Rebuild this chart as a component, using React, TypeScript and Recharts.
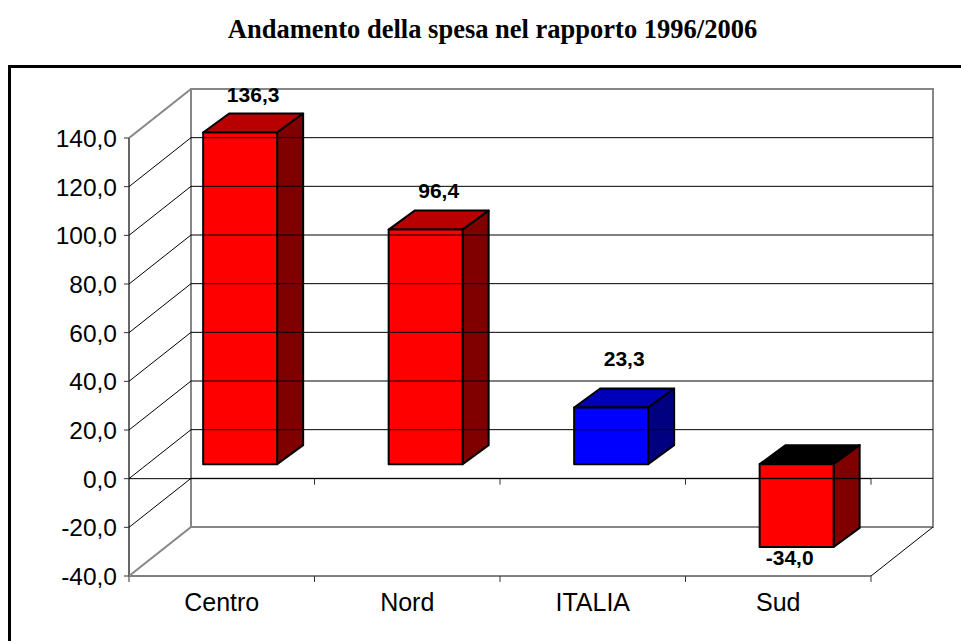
import { BarChart, Bar, XAxis, YAxis, LabelList, ReferenceArea, ReferenceLine } from "recharts";

const categories = ["Centro", "Nord", "ITALIA", "Sud"];
const values = [136.3, 96.4, 23.3, -34.0];
const barColors = ["red", "red", "blue", "red"];
const yTicks = [-40, -20, 0, 20, 40, 60, 80, 100, 120, 140];

const data = categories.map((name, i) => ({ name, value: values[i], kind: barColors[i] }));

const W = 961;
const H = 641;
const PLOT_LEFT = 129;
const PLOT_RIGHT = 871;
const PLOT_TOP = 138;
const PLOT_BOTTOM = 576;
// profondita' dello pseudo 3D
const DEPTH_X = 62;
const DEPTH_Y = 49;
const BAR_DX = 26;
const BAR_DY = 19;
const FRONT_DX = 18.5;
const FRONT_DY = 14.5;

const SHADES: Record<string, { front: string; side: string; top: string }> = {
  red: { front: "#ff0000", side: "#800000", top: "#b80000" },
  blue: { front: "#0000ff", side: "#000080", top: "#0000b8" },
};

const fmt = (v: number) => v.toFixed(1).replace(".", ",");

function YTick({ x, y, payload }: any) {
  const v = payload.value;
  const edge = v === 140 || v === -40;
  const px = PLOT_LEFT;
  return (
    <g>
      {!edge && <line x1={px + DEPTH_X} x2={PLOT_RIGHT + DEPTH_X} y1={y - DEPTH_Y} y2={y - DEPTH_Y} stroke="#000" />}
      <line x1={px} x2={px + DEPTH_X} y1={y} y2={y - DEPTH_Y} stroke={edge ? "#868686" : "#000"} strokeWidth={edge ? 2 : 1} />
      <line x1={px - 5} x2={px} y1={y} y2={y} stroke="#333" />
      <text x={x - 4} y={y + 9} textAnchor="end" fontFamily="Liberation Sans" fontSize={24.5} fill="#000">
        {fmt(v)}
      </text>
    </g>
  );
}

function XTick({ x, y, payload, index }: any) {
  const step = (PLOT_RIGHT - PLOT_LEFT) / categories.length;
  const right = PLOT_LEFT + step * (index + 1);
  return (
    <g>
      <line x1={right} x2={right} y1={PLOT_BOTTOM} y2={PLOT_BOTTOM + 6} stroke="#333" />
      {index === 0 && <line x1={PLOT_LEFT} x2={PLOT_LEFT} y1={PLOT_BOTTOM} y2={PLOT_BOTTOM + 6} stroke="#333" />}
      <text x={x} y={y + 27} textAnchor="middle" fontFamily="Liberation Sans" fontSize={25} fill="#000">
        {payload.value}
      </text>
    </g>
  );
}

function BackWall({ x, y, width, height }: any) {
  const bx = x + DEPTH_X;
  const by = y - DEPTH_Y;
  return (
    <g>
      <rect x={bx} y={by} width={width} height={height} fill="none" stroke="#868686" strokeWidth={2} />
      <line x1={x + width} y1={y + height} x2={bx + width} y2={by + height} stroke="#000" />
      <line x1={x} y1={y} x2={x} y2={y + height} stroke="#333" strokeWidth={1.5} />
    </g>
  );
}

function ZeroLine({ x1, x2, y1, y2, viewBox, ...rest }: any) {
  const ax = x1 ?? rest.segment?.[0]?.x ?? PLOT_LEFT;
  const bx = x2 ?? rest.segment?.[1]?.x ?? PLOT_RIGHT;
  const yy = y1 ?? rest.segment?.[0]?.y;
  const step = (bx - ax) / categories.length;
  return (
    <g>
      <line x1={ax} x2={bx} y1={yy} y2={y2 ?? yy} stroke="#000" />
      {categories.map((c, i) => (
        <line key={c} x1={ax + step * (i + 1)} x2={ax + step * (i + 1)} y1={yy} y2={yy + 6} stroke="#333" />
      ))}
    </g>
  );
}

function Box3D({ x, y, width, height, payload }: any) {
  const neg = payload.value < 0;
  const h = Math.abs(height);
  const t = Math.min(y, y + height);
  const fx = x + FRONT_DX;
  const fy = t - FRONT_DY;
  const c = SHADES[payload.kind];
  const stroke = { stroke: "#000", strokeWidth: 2, strokeLinejoin: "round" as const };
  return (
    <g>
      <polygon
        points={`${fx},${fy} ${fx + width},${fy} ${fx + width + BAR_DX},${fy - BAR_DY} ${fx + BAR_DX},${fy - BAR_DY}`}
        fill={neg ? "#000" : c.top}
        {...stroke}
      />
      <polygon
        points={`${fx + width},${fy} ${fx + width + BAR_DX},${fy - BAR_DY} ${fx + width + BAR_DX},${fy - BAR_DY + h} ${fx + width},${fy + h}`}
        fill={c.side}
        {...stroke}
      />
      <rect x={fx} y={fy} width={width} height={h} fill={c.front} {...stroke} />
    </g>
  );
}

function ValueLabel({ x, y, width, height, value }: any) {
  const neg = value < 0;
  const t = Math.min(y, y + height);
  const b = Math.max(y, y + height);
  const cx = x + FRONT_DX + width / 2 + (neg ? -7 : 13);
  const ly = neg ? b - FRONT_DY + 18 : t - FRONT_DY - BAR_DY - (value < 50 ? 22 : value < 100 ? 13 : 12);
  return (
    <text x={cx} y={ly} textAnchor="middle" fontFamily="Liberation Sans" fontWeight="bold" fontSize={21} fill="#000">
      {fmt(value)}
    </text>
  );
}

export default function App() {
  return (
    <div style={{ position: "absolute", left: 0, top: 0, width: W, height: H, background: "#fff", overflow: "hidden" }}>
      <div
        style={{
          position: "absolute",
          left: 0,
          right: 0,
          top: 14,
          paddingLeft: 24,
          textAlign: "center",
          fontFamily: "Liberation Serif",
          fontWeight: "bold",
          fontSize: 26.5,
        }}
      >
        Andamento della spesa nel rapporto 1996/2006
      </div>
      <div style={{ position: "absolute", left: 8, top: 65, width: 980, height: 620, border: "3px solid #000", boxSizing: "border-box" }} />
      <BarChart
        width={W}
        height={H}
        data={data}
        barCategoryGap="30%"
        margin={{ top: PLOT_TOP, right: W - PLOT_RIGHT, bottom: 0, left: 0 }}
        style={{ position: "absolute", left: 0, top: 0 }}
      >
        <ReferenceArea y1={-40} y2={140} shape={<BackWall />} fill="none" stroke="none" ifOverflow="visible" />
        <XAxis dataKey="name" height={H - PLOT_BOTTOM} tick={<XTick />} tickLine={false} axisLine={{ stroke: "#000" }} />
        <YAxis width={PLOT_LEFT} domain={[-40, 140]} ticks={yTicks} tick={<YTick />} tickLine={false} axisLine={false} interval={0} />
        <Bar dataKey="value" shape={<Box3D />} isAnimationActive={false}>
          <LabelList dataKey="value" content={<ValueLabel />} />
        </Bar>
        <ReferenceLine y={0} shape={<ZeroLine />} />
      </BarChart>
    </div>
  );
}
